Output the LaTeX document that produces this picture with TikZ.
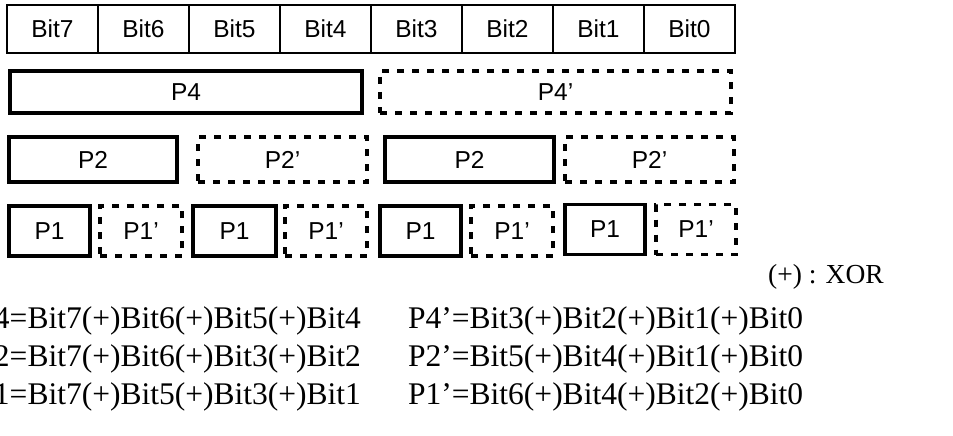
\documentclass[tikz,border=0pt]{standalone}
\usepackage{fontspec}
\setmainfont{Liberation Serif}
\newfontfamily\sansf{Liberation Sans}
\begin{document}
\begin{tikzpicture}[x=1pt,y=-1pt,
  bitcell/.style={draw, line width=1.3pt, minimum width=91pt, minimum height=48pt, inner sep=0pt, font=\sansf\fontsize{24.5}{24.5}\selectfont},
  solidbox/.style={draw, line width=3.2pt, inner sep=0pt, font=\sansf\fontsize{24.5}{24.5}\selectfont},
  dashbox/.style={draw, line width=3.2pt, dash pattern=on 7pt off 8pt, inner sep=0pt, font=\sansf\fontsize{24.5}{24.5}\selectfont},
  eqtext/.style={inner sep=0pt, font=\fontsize{31.5}{31.5}\selectfont},
  notetext/.style={inner sep=0pt, font=\fontsize{27.5}{27.5}\selectfont}]
\useasboundingbox (0,0) rectangle (953,436);
% bit row
\foreach \i/\b in {0/7,1/6,2/5,3/4,4/3,5/2,6/1,7/0}{
  \node[bitcell] (bit\b) at ({52.5+91*\i},29) {Bit\b};
}
% P4 row
\node[solidbox, minimum width=352pt, minimum height=42pt] (p4) at (186,92) {P4};
\node[dashbox, minimum width=351pt, minimum height=42pt] (p4p) at (555.5,92) {P4’};
% P2 row
\node[solidbox, minimum width=168pt, minimum height=45pt] (p2a) at (93,159.5) {P2};
\node[dashbox, minimum width=169pt, minimum height=45pt] (p2pa) at (282.5,159.5) {P2’};
\node[solidbox, minimum width=169pt, minimum height=45pt] (p2b) at (469.5,159.5) {P2};
\node[dashbox, minimum width=169pt, minimum height=45pt] (p2pb) at (649.5,159.5) {P2’};
% P1 row
\node[solidbox, minimum width=81pt, minimum height=50pt] (p1a) at (49.5,231) {P1};
\node[dashbox, minimum width=82pt, minimum height=50pt] (p1pa) at (141,231) {P1’};
\node[solidbox, minimum width=83pt, minimum height=50pt] (p1b) at (234.5,231) {P1};
\node[dashbox, minimum width=82pt, minimum height=50pt] (p1pb) at (326,231) {P1’};
\node[solidbox, minimum width=81pt, minimum height=50pt] (p1c) at (420.5,231) {P1};
\node[dashbox, minimum width=82pt, minimum height=50pt] (p1pc) at (512,231) {P1’};
\node[solidbox, minimum width=80pt, minimum height=50pt] (p1d) at (605,229.5) {P1};
\node[dashbox, minimum width=80pt, minimum height=50pt] (p1pd) at (696,229.5) {P1’};
% note
\node[notetext, anchor=base west] (xor) at (768,283) {(+) : XOR};
% equations
\node[eqtext, anchor=base east] (eq4) at (361,328) {P4=Bit7(+)Bit6(+)Bit5(+)Bit4};
\node[eqtext, anchor=base west] (eq4p) at (408,328) {P4’=Bit3(+)Bit2(+)Bit1(+)Bit0};
\node[eqtext, anchor=base east] (eq2) at (361,366) {P2=Bit7(+)Bit6(+)Bit3(+)Bit2};
\node[eqtext, anchor=base west] (eq2p) at (408,366) {P2’=Bit5(+)Bit4(+)Bit1(+)Bit0};
\node[eqtext, anchor=base east] (eq1) at (361,404) {P1=Bit7(+)Bit5(+)Bit3(+)Bit1};
\node[eqtext, anchor=base west] (eq1p) at (408,404) {P1’=Bit6(+)Bit4(+)Bit2(+)Bit0};
\end{tikzpicture}
\end{document}
